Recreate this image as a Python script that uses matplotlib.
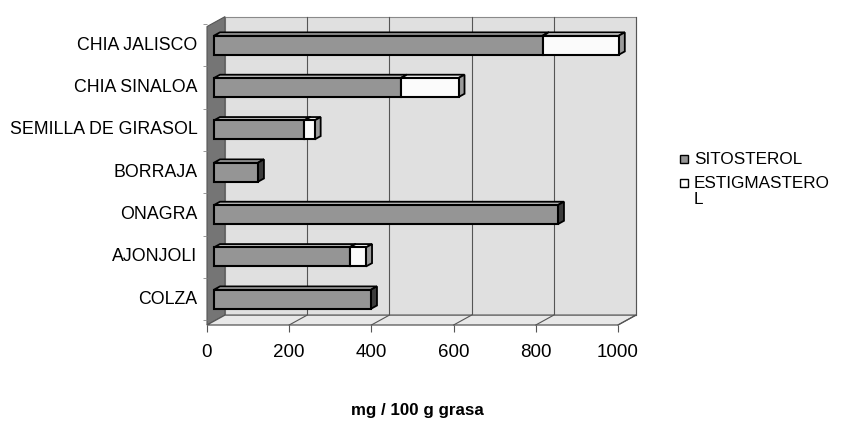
import matplotlib
matplotlib.use("Agg")
import matplotlib.pyplot as plt
from matplotlib.patches import Polygon, Rectangle

plt.rcParams['font.family'] = ['Liberation Sans', 'DejaVu Sans']

# Data: sterol content of seed oils (mg / 100 g fat)
categories = ["COLZA", "AJONJOLI", "ONAGRA", "BORRAJA",
              "SEMILLA DE GIRASOL", "CHIA SINALOA", "CHIA JALISCO"]
sitosterol = [382, 330, 837, 107, 220, 455, 800]
estigmasterol = [0, 40, 0, 0, 25, 140, 185]
series_names = ["SITOSTEROL", "ESTIGMASTERO\nL"]
xticks = [0, 200, 400, 600, 800, 1000]
xlabel = "mg / 100 g grasa"

W, H = 841, 423
fig = plt.figure(figsize=(W / 100, H / 100), dpi=100)

# front plane of the 3-D box in pixels
px_left, px_right = 207, 618
px_floor, px_top = 325, 24
y_floor, y_top = -0.609, 6.44
ax = fig.add_axes([px_left / W, 1 - px_floor / H,
                   (px_right - px_left) / W, (px_floor - px_top) / H])
ax.set_xlim(0, 1000)
ax.set_ylim(y_floor, y_top)
for s in ax.spines.values():
    s.set_visible(False)
ax.set_facecolor("none")

# depth of the box in data units
DX, DY = 43.8, 0.234
xmax = 1000

def poly(pts, fc, ec="#444444", lw=0.8, z=1):
    p = Polygon(pts, closed=True, facecolor=fc, edgecolor=ec, linewidth=lw,
                zorder=z, clip_on=False, joinstyle="miter")
    ax.add_patch(p)

# walls
poly([(DX, y_floor + DY), (xmax + DX, y_floor + DY),
      (xmax + DX, y_top + DY), (DX, y_top + DY)], "#e0e0e0", ec="#8a8a8a", lw=0.8, z=0)
poly([(0, y_floor), (DX, y_floor + DY), (DX, y_top + DY), (0, y_top)],
     "#757575", ec="#555555", lw=0.8, z=0.5)
poly([(0, y_floor), (xmax, y_floor), (xmax + DX, y_floor + DY), (DX, y_floor + DY)],
     "#e8e8e8", ec="#555555", lw=0.9, z=0.5)

# gridlines on back wall and floor
for v in xticks[1:]:
    ax.plot([v + DX, v + DX], [y_floor + DY, y_top + DY], color="#555555",
            lw=0.8, zorder=0.3, clip_on=False)
    ax.plot([v, v + DX], [y_floor, y_floor + DY], color="#555555",
            lw=0.8, zorder=0.6, clip_on=False)

# 3-D stacked bars
f0, f1 = 0.39, 0.72
h = 0.45
ddx, ddy = (f1 - f0) * DX, (f1 - f0) * DY

def bar3d(y, x0, x1, front, top, side):
    bx0, bx1 = x0 + f0 * DX, x1 + f0 * DX
    yb, yt = y - h / 2, y + h / 2
    poly([(bx0, yt), (bx1, yt), (bx1 + ddx, yt + ddy), (bx0 + ddx, yt + ddy)],
         top, ec="black", lw=1.3, z=3)
    poly([(bx1, yb), (bx1 + ddx, yb + ddy), (bx1 + ddx, yt + ddy), (bx1, yt)],
         side, ec="black", lw=1.3, z=3)
    poly([(bx0, yb), (bx1, yb), (bx1, yt), (bx0, yt)],
         front, ec="black", lw=1.5, z=4)

for i, (s, e) in enumerate(zip(sitosterol, estigmasterol)):
    bar3d(i, 0, s, "#959595", "#b8b8b8", "#3c3c3c")
    if e > 0:
        bar3d(i, s, s + e, "#fbfbfb", "#f0f0f0", "#9a9a9a")

# axes ticks and labels
ax.set_xticks(xticks)
ax.set_xticklabels([str(v) for v in xticks], fontsize=13.5)
ax.tick_params(axis="x", length=5, width=0.8, color="#555555", pad=9)
ax.set_yticks(range(len(categories)))
ax.set_yticklabels(categories, fontsize=12.8)
ax.tick_params(axis="y", length=0, pad=7)
ax.set_yticks([i + 0.5 for i in range(-1, len(categories))], minor=True)
ax.tick_params(axis="y", which="minor", length=3, width=0.6, color="#888888")
for lab in ax.get_yticklabels():
    lab.set_verticalalignment("center")

fig.text(417 / W, 1 - 410 / H, xlabel, ha="center", va="center",
         fontsize=12.2, fontweight="bold")

# legend
leg_fc = ["#959595", "#ffffff"]
leg_y = [159, 183]
for name, fc, yy in zip(series_names, leg_fc, leg_y):
    fig.patches.append(Rectangle((680 / W, 1 - (yy + 4) / H), 8 / W, 8 / H,
                                 transform=fig.transFigure, facecolor=fc,
                                 edgecolor="black", linewidth=1.0))
    fig.text(694 / W, 1 - (yy - 7.5) / H, name, ha="left", va="top",
             fontsize=12.3, linespacing=1.1)

fig.savefig("out.png", dpi=100)
